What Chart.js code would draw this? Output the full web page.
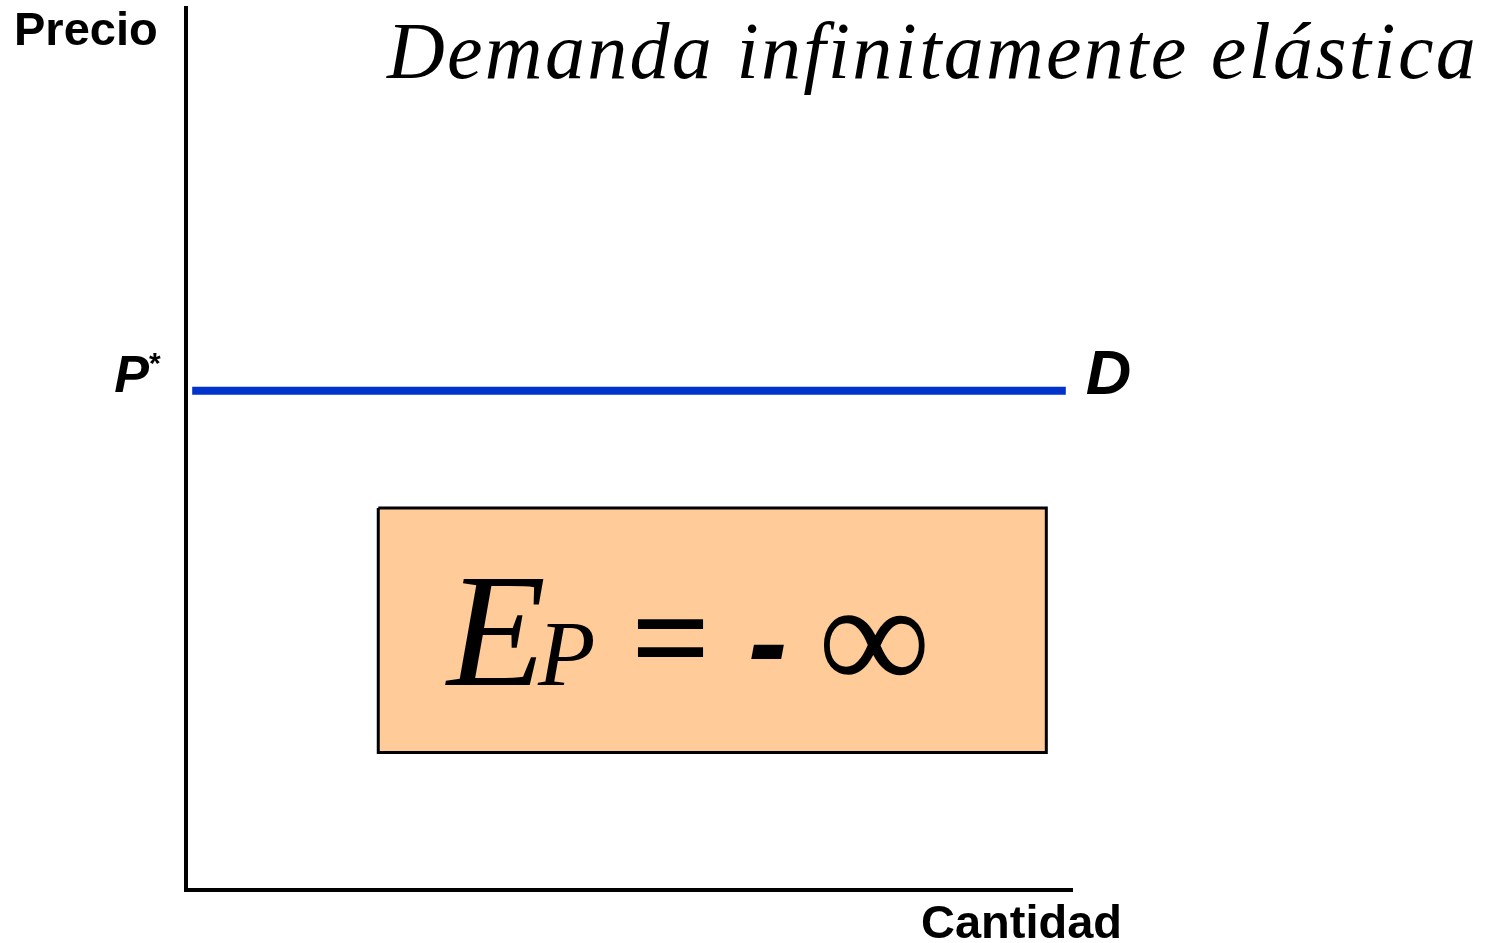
<!DOCTYPE html>
<html>
<head>
<meta charset="utf-8">
<script src="https://cdn.jsdelivr.net/npm/chart.js@4"></script>
<style>
  html, body { margin: 0; padding: 0; background: #ffffff; }
  canvas { display: block; }
</style>
</head>
<body>
<canvas id="chart" width="1498" height="943"></canvas>
<script>
// ===== DATA =====
const demandX = [0.7, 99.3];       // quantity range of the demand curve
const priceStar = [56.6, 56.6];    // P* is constant: horizontal demand
const boxX = [21.7, 97.1, 97.1, 21.7, 21.7];
const boxY = [43.3, 43.3, 15.6, 15.6, 43.3];

const titleText = "Demanda infinitamente elástica";
const yLabel = "Precio";
const xLabel = "Cantidad";
const priceLabel = "P";
const demandLabel = "D";

// ===== LABEL PLUGIN =====
const labelsPlugin = {
  id: "labels",
  afterDraw(chart) {
    const ctx = chart.ctx;
    const xs = chart.scales.x;
    const ys = chart.scales.y;
    const area = chart.chartArea;
    ctx.save();
    ctx.fillStyle = "#000";
    ctx.textBaseline = "alphabetic";

    // title
    ctx.font = "italic 80px 'Liberation Serif', 'Times New Roman', serif";
    ctx.letterSpacing = "2.3px";
    ctx.textAlign = "right";
    ctx.fillText(titleText, 1478, 78);
    ctx.letterSpacing = "0px";

    // axis names
    ctx.font = "bold 47px 'Liberation Sans', Arial, sans-serif";
    ctx.textAlign = "left";
    ctx.fillText(yLabel, 14, 45);
    ctx.textAlign = "right";
    ctx.fillText(xLabel, 1122, 938);

    // P* and D
    const lineY = ys.getPixelForValue(priceStar[0]);
    ctx.font = "italic bold 52px 'Liberation Sans', Arial, sans-serif";
    ctx.textAlign = "right";
    ctx.fillText(priceLabel, area.left - 37, lineY + 1);
    ctx.font = "bold 30px 'Liberation Sans', Arial, sans-serif";
    ctx.textAlign = "left";
    ctx.fillText("*", area.left - 37, lineY - 18);
    ctx.font = "italic bold 63px 'Liberation Sans', Arial, sans-serif";
    ctx.fillText(demandLabel, xs.getPixelForValue(demandX[1]) + 20, lineY + 3);

    // elasticity equation inside the box
    const eqY = ys.getPixelForValue((boxY[0] + boxY[2]) / 2) + 55;
    let x = 447;
    ctx.textAlign = "left";
    ctx.font = "italic 162px 'Liberation Serif', 'Times New Roman', serif";
    ctx.fillText("E", x, eqY);
    x += ctx.measureText("E").width - 8;
    ctx.font = "italic 94px 'Liberation Serif', 'Times New Roman', serif";
    ctx.fillText("P", x, eqY);
    ctx.font = "bold 140px 'Liberation Serif', 'Times New Roman', serif";
    ctx.fillText("=", 631, eqY);
    ctx.font = "italic bold 118px 'Liberation Sans', Arial, sans-serif";
    ctx.fillText("-", 748, eqY - 2);
    ctx.font = "158px 'Liberation Serif', 'DejaVu Serif', serif";
    ctx.fillText("\u221E", 818, eqY + 6);
    ctx.restore();
  }
};

// ===== CHART =====
new Chart(document.getElementById("chart"), {
  type: "scatter",
  data: {
    datasets: [
      {
        label: "Box",
        data: boxX.map((v, i) => ({ x: v, y: boxY[i] })),
        showLine: true,
        fill: "shape",
        backgroundColor: "#ffcc99",
        borderColor: "#000000",
        borderWidth: 3,
        pointRadius: 0,
        tension: 0
      },
      {
        label: "D",
        data: demandX.map((v, i) => ({ x: v, y: priceStar[i] })),
        showLine: true,
        borderColor: "#0033cc",
        borderWidth: 8,
        borderCapStyle: "butt",
        pointRadius: 0
      }
    ]
  },
  options: {
    responsive: false,
    animation: false,
    layout: { padding: { left: 186, top: 8, right: 426, bottom: 53 } },
    plugins: { legend: { display: false }, tooltip: { enabled: false } },
    scales: {
      x: {
        min: 0, max: 100,
        ticks: { display: false },
        grid: { display: false, drawTicks: false },
        border: { display: true, color: "#000", width: 4 }
      },
      y: {
        min: 0, max: 100,
        ticks: { display: false },
        grid: { display: false, drawTicks: false },
        border: { display: true, color: "#000", width: 4 }
      }
    }
  },
  plugins: [labelsPlugin]
});
</script>
</body>
</html>
